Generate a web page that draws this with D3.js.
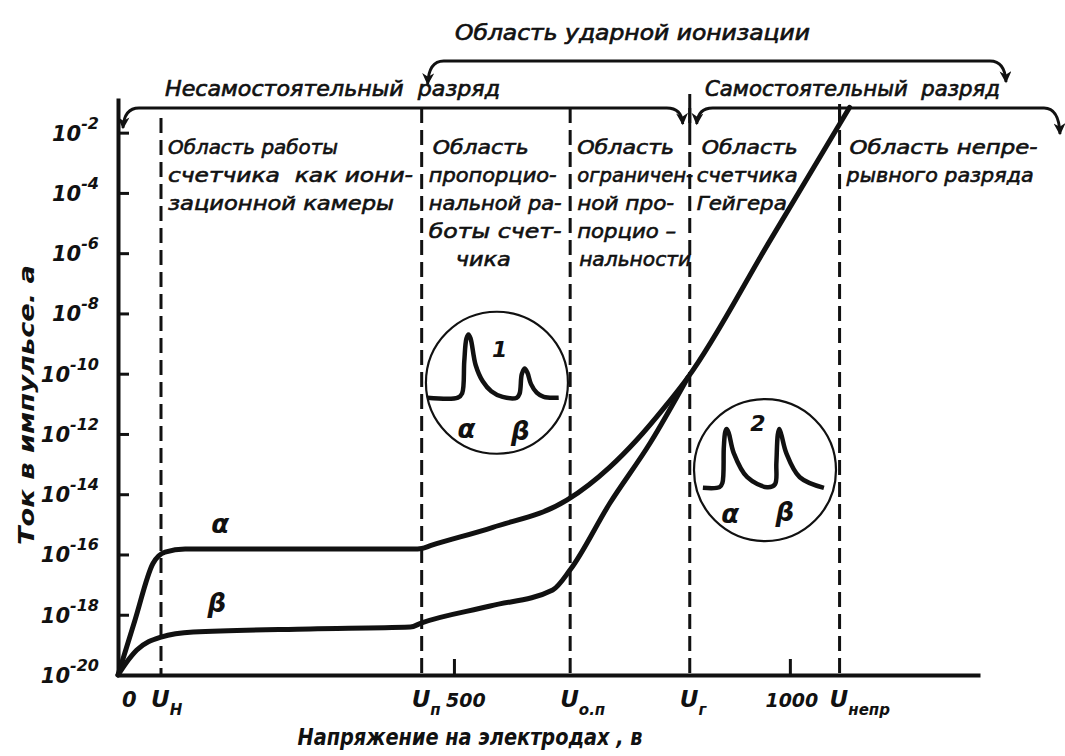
<!DOCTYPE html>
<html>
<head>
<meta charset="utf-8">
<script src="https://cdn.jsdelivr.net/npm/d3@7"></script>
<style>
  body { margin: 0; background: #fff; }
  text { font-family: "DejaVu Sans", sans-serif; font-style: oblique; fill: #111; white-space: pre; }
</style>
</head>
<body>
<svg id="chart" width="1065" height="756"></svg>
<script>
// ---- data ----
const decades = [-20, -18, -16, -14, -12, -10, -8, -6, -4, -2];   // log10 of current, a
const voltTicks = [500, 1000];
const markVolts = [0, 64, 452, 673, 851, 1074];                   // 0, U_н, U_п, U_о.п, U_г, U_непр
const markSubs = ['', 'Н', 'п', 'о.п', 'г', 'непр'];

const alphaV = [0, 25, 52, 70, 100, 270, 440, 452, 466, 558, 668, 732, 772, 814, 848, 970, 1089];
const alphaL = [-20, -18.2, -16.3, -15.92, -15.82, -15.82, -15.82, -15.8, -15.7, -15.1, -14.2, -13.1, -12.2, -11.1, -10.13, -5.6, -1.16];
const betaV = [0, 12, 28, 64, 112, 286, 435, 452, 554, 647, 673, 732, 792, 848];
const betaL = [-20, -19.6, -19.17, -18.74, -18.57, -18.47, -18.41, -18.27, -17.71, -17.18, -16.51, -14.3, -12.3, -10.13];

const regionText = [
  ['Область работы', 'счетчика  как иони-', 'зационной камеры'],
  ['Область', 'пропорцио-', 'нальной ра-', 'боты счет-', 'чика'],
  ['Область', 'ограничен-', 'ной про-', 'порцио –', 'нальности'],
  ['Область', 'счетчика', 'Гейгера'],
  ['Область непре-', 'рывного разряда']
];

// oscillogram insets (center in data units, pulse in units of radius)
const insetV = [564, 963];
const insetL = [-10.3, -13.2];
const insetNum = ['1', '2'];
const pulse1 = [[-0.98,0.21],[-0.55,0.21],[-0.49,0.15],[-0.46,-0.3],[-0.43,-0.62],[-0.40,-0.68],[-0.37,-0.62],
  [-0.30,-0.25],[-0.20,-0.02],[-0.08,0.12],[0.08,0.2],[0.28,0.21],[0.32,0.15],[0.35,-0.12],[0.39,-0.2],
  [0.43,-0.14],[0.48,0.02],[0.56,0.14],[0.66,0.2],[0.87,0.21]];
const pulse2 = [[-0.875,0.25],[-0.64,0.24],[-0.6,0.18],[-0.58,-0.32],[-0.56,-0.54],[-0.54,-0.58],[-0.51,-0.52],
  [-0.44,-0.24],[-0.25,0.1],[0.03,0.24],[0.14,0.2],[0.16,-0.1],[0.18,-0.5],[0.2,-0.58],[0.23,-0.5],
  [0.3,-0.24],[0.49,0.1],[0.83,0.25]];

// widths of the hand lettering, so lines end where they do in the picture
const regionWidths = [[170, 245, 226], [96, 128, 133, 133, 55], [97, 116, 97, 99, 112], [96, 101, 90], [188, 187]];
const regionIndent = [[0, 0, 0], [4, 0, 0, 0, 27], [0, 0, 0, 0, 2], [5, 0, 0], [3, 0]];

const svg = d3.select('#chart');
const x = d3.scaleLinear().domain([0, 1283]).range([118, 980]);
const y = d3.scaleLinear().domain([-20, -0.85]).range([675, 98]);

const defs = svg.append('defs');
defs.append('marker')
  .attr('id', 'arr')
  .attr('viewBox', '0 0 10 10')
  .attr('refX', 9).attr('refY', 5)
  .attr('markerWidth', 14).attr('markerHeight', 12)
  .attr('markerUnits', 'userSpaceOnUse')
  .attr('orient', 'auto-start-reverse')
  .append('path')
  .attr('d', 'M0,0 L10,5 L0,10 L3,5 Z')
  .attr('fill', '#111');

// dashed region borders
const borders = svg.append('g');
markVolts.slice(1).forEach((v, i) => {
  const top = i === 0 ? 118 : 108;
  borders.append('line')
    .attr('x1', x(v)).attr('x2', x(v))
    .attr('y1', top).attr('y2', y(-20))
    .attr('stroke', '#111').attr('stroke-width', 3)
    .attr('stroke-dasharray', '15,7');
});
// solid tops where the brackets split
[[851, 94, 130], [1074, 104, 124]].forEach(d => {
  borders.append('line')
    .attr('x1', x(d[0])).attr('x2', x(d[0]))
    .attr('y1', d[1]).attr('y2', d[2])
    .attr('stroke', '#111').attr('stroke-width', 3);
});

// axes
const yAxis = svg.append('g')
  .attr('transform', `translate(${x(0)},0)`)
  .call(d3.axisLeft(y).tickValues(decades).tickSize(-11).tickSizeOuter(0).tickFormat(() => ''));
const xAxis = svg.append('g')
  .attr('transform', `translate(0,${y(-20)})`)
  .call(d3.axisBottom(x).tickValues(voltTicks).tickSize(-16).tickSizeOuter(0).tickFormat(() => ''));
[yAxis, xAxis].forEach(g => {
  g.select('.domain').attr('stroke', '#111').attr('stroke-width', 4);
  g.selectAll('.tick line').attr('stroke', '#111').attr('stroke-width', 3);
});

// y tick labels 10^n
const yl = svg.append('g').selectAll('text').data(decades).enter().append('text')
  .attr('x', x(0) - 19)
  .attr('y', d => y(d) + 8)
  .attr('text-anchor', 'end')
  .attr('font-weight', 'bold');
yl.append('tspan').attr('font-size', 21).text('10');
yl.append('tspan').attr('font-size', 16).attr('dy', -12).text(d => '-' + Math.abs(d));

// x tick labels
const xl = svg.append('g');
markVolts.forEach((v, i) => {
  const t = xl.append('text')
    .attr('x', i === 0 ? x(v) + 4 : x(v) - 10)
    .attr('y', 707)
    .attr('font-weight', 'bold');
  if (i === 0) { t.attr('font-size', 21).text('0'); return; }
  t.append('tspan').attr('font-size', 23).text('U');
  t.append('tspan').attr('font-size', 15).attr('dy', 8).text(markSubs[i]);
});
voltTicks.forEach(v => {
  xl.append('text')
    .attr('x', x(v) + (v === 500 ? 12 : 2))
    .attr('y', 707)
    .attr('text-anchor', 'middle')
    .attr('font-weight', 'bold').attr('font-size', 19)
    .text(v);
});

// axis titles
svg.append('text')
  .attr('transform', 'translate(34,405) rotate(-90)')
  .attr('text-anchor', 'middle')
  .attr('font-size', 22).attr('font-weight', 'bold')
  .attr('textLength', 280).attr('lengthAdjust', 'spacingAndGlyphs')
  .text('Ток в импульсе. а');
svg.append('text')
  .attr('x', 470).attr('y', 745)
  .attr('text-anchor', 'middle')
  .attr('font-size', 23).attr('font-weight', 'bold')
  .attr('textLength', 345).attr('lengthAdjust', 'spacingAndGlyphs')
  .text('Напряжение на электродах , в');

// curves
const line = d3.line().x(d => x(d[0])).y(d => y(d[1])).curve(d3.curveMonotoneX);
[[alphaV, alphaL], [betaV, betaL]].forEach(s => {
  svg.append('path')
    .attr('d', line(d3.zip(s[0], s[1])))
    .attr('fill', 'none')
    .attr('stroke', '#111').attr('stroke-width', 5)
    .attr('stroke-linecap', 'round').attr('stroke-linejoin', 'round');
});
svg.append('text').attr('x', x(152)).attr('y', y(-15.3))
  .attr('text-anchor', 'middle').attr('font-size', 26).attr('font-weight', 'bold').text('α');
svg.append('text').attr('x', x(147)).attr('y', y(-17.9))
  .attr('text-anchor', 'middle').attr('font-size', 26).attr('font-weight', 'bold').text('β');

// region descriptions
const reg = svg.append('g');
regionText.forEach((lines, i) => {
  lines.forEach((s, j) => {
    reg.append('text')
      .attr('x', x(markVolts[i + 1]) + 7 + regionIndent[i][j])
      .attr('y', 154 + j * 28)
      .attr('font-size', 20)
      .attr('stroke', '#111').attr('stroke-width', 0.6)
      .attr('textLength', regionWidths[i][j]).attr('lengthAdjust', 'spacingAndGlyphs')
      .text(s);
  });
});

// brackets
function bracket(x0, x1, yLine, tip0, tip1) {
  return `M${x0},${tip0} Q${x0 + 1},${yLine} ${x0 + 16},${yLine} L${x1 - 16},${yLine} Q${x1 - 1},${yLine} ${x1},${tip1}`;
}
const br = svg.append('g').attr('fill', 'none').attr('stroke', '#111').attr('stroke-width', 2.8);
br.append('path').attr('d', bracket(x(452) + 6, 1006, 61, 84, 82))
  .attr('marker-start', 'url(#arr)').attr('marker-end', 'url(#arr)');
br.append('path').attr('d', bracket(x(0) + 5, x(851) - 7, 108, 128, 124))
  .attr('marker-start', 'url(#arr)').attr('marker-end', 'url(#arr)');
br.append('path').attr('d', bracket(x(851) + 7, 1060, 108, 124, 134))
  .attr('marker-start', 'url(#arr)').attr('marker-end', 'url(#arr)');

const hd = [['Область ударной ионизации', 455, 40, 355], ['Несамостоятельный  разряд', 165, 96, 335], ['Самостоятельный  разряд', 705, 96, 295]];
hd.forEach(h => {
  svg.append('text').attr('x', h[1]).attr('y', h[2])
    .attr('font-size', 22).attr('stroke', '#111').attr('stroke-width', 0.7)
    .attr('textLength', h[3]).attr('lengthAdjust', 'spacingAndGlyphs')
    .text(h[0]);
});

// oscillogram insets
const pulseLine = d3.line().curve(d3.curveCatmullRom);
const R = 71;
insetV.forEach((v, i) => {
  const cx = x(v), cy = y(insetL[i]);
  const g = svg.append('g').attr('transform', `translate(${cx},${cy})`);
  g.append('circle').attr('r', R).attr('fill', '#fff').attr('stroke', '#111').attr('stroke-width', 2.2);
  const pts = (i === 0 ? pulse1 : pulse2).map(p => [p[0] * R, p[1] * R]);
  g.append('path').attr('d', pulseLine(pts))
    .attr('fill', 'none').attr('stroke', '#111').attr('stroke-width', 4.5).attr('stroke-linejoin', 'round');
  const numPos = i === 0 ? [0.04, -0.36] : [-0.1, -0.55];
  g.append('text').attr('x', numPos[0] * R).attr('y', numPos[1] * R)
    .attr('text-anchor', 'middle').attr('font-size', 22).attr('font-weight', 'bold').text(insetNum[i]);
  const ab = i === 0 ? [[-0.43, 0.78], [0.33, 0.8]] : [[-0.49, 0.74], [0.28, 0.72]];
  g.append('text').attr('x', ab[0][0] * R).attr('y', ab[0][1] * R)
    .attr('text-anchor', 'middle').attr('font-size', 26).attr('font-weight', 'bold').text('α');
  g.append('text').attr('x', ab[1][0] * R).attr('y', ab[1][1] * R)
    .attr('text-anchor', 'middle').attr('font-size', 26).attr('font-weight', 'bold').text('β');
});
</script>
</body>
</html>
